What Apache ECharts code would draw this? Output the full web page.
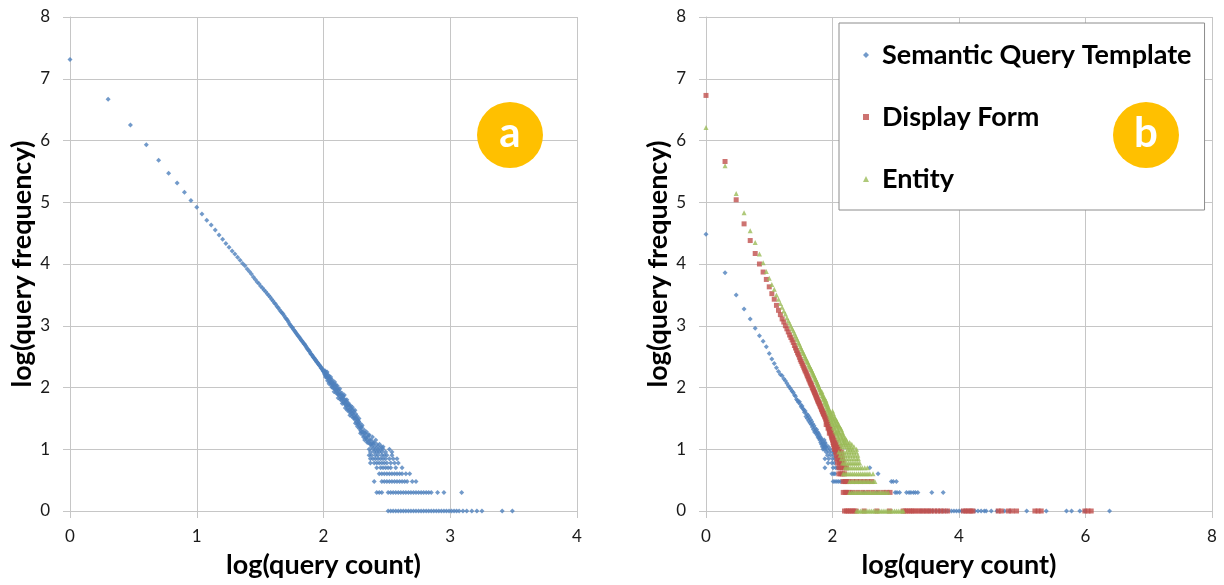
<!DOCTYPE html>
<html>
<head>
<meta charset="utf-8">
<script src="https://cdn.jsdelivr.net/npm/echarts@6/dist/echarts.min.js"></script>
<style>
  html, body { margin: 0; padding: 0; background: #ffffff; }
  #chart { width: 1224px; height: 585px; }
</style>
</head>
<body>
<div id="chart"></div>
<script>
// ---- Tick values ----
const countTicksA = [0, 1, 2, 3, 4];
const countTicksB = [0, 2, 4, 6, 8];
const freqTicks = [0, 1, 2, 3, 4, 5, 6, 7, 8];

// ---- Panel (a): all queries, [log(count), log(frequency)] ----
const queryCurve = [
  [0.000,7.31],[0.301,6.67],[0.477,6.25],[0.602,5.93],[0.699,5.68],[0.778,5.47],[0.845,5.31],[0.903,5.16],[0.954,5.03],
  [1.000,4.92],[1.041,4.81],[1.079,4.71],[1.114,4.63],[1.146,4.55],[1.176,4.47],[1.204,4.40],[1.230,4.33],[1.255,4.27],
  [1.279,4.21],[1.301,4.16],[1.322,4.11],[1.342,4.06],[1.362,4.01],[1.380,3.97],[1.398,3.92],[1.415,3.88],[1.431,3.84],
  [1.447,3.79],[1.462,3.75],[1.477,3.71],[1.491,3.68],[1.505,3.64],[1.519,3.61],[1.531,3.58],[1.544,3.55],[1.556,3.52],
  [1.568,3.49],[1.580,3.46],[1.591,3.43],[1.602,3.40],[1.613,3.37],[1.623,3.35],[1.633,3.31],[1.643,3.29],[1.653,3.26],
  [1.663,3.23],[1.672,3.21],[1.681,3.19],[1.690,3.16],[1.699,3.13],[1.708,3.11],[1.716,3.09],[1.724,3.06],[1.732,3.03],
  [1.740,3.01],[1.748,2.98],[1.756,2.97],[1.763,2.94],[1.771,2.92],[1.778,2.90],[1.785,2.88],[1.792,2.86],[1.799,2.84],
  [1.806,2.82],[1.813,2.80],[1.820,2.78],[1.826,2.76],[1.833,2.75],[1.839,2.73],[1.845,2.71],[1.851,2.70],[1.857,2.68],
  [1.863,2.66],[1.869,2.64],[1.875,2.62],[1.881,2.61],[1.886,2.59],[1.892,2.58],[1.898,2.55],[1.903,2.54],[1.908,2.53],
  [1.914,2.51],[1.919,2.49],[1.924,2.48],[1.929,2.47],[1.934,2.45],[1.940,2.44],[1.944,2.42],[1.949,2.41],[1.954,2.40],
  [1.959,2.38],[1.964,2.37],[1.968,2.36],[1.973,2.35],[1.978,2.33],[1.982,2.31],[1.987,2.31],[1.991,2.29],[1.996,2.27],
  [2.000,2.26]
];
const queryScatter = [
  [2.004,2.27],[2.008,2.22],[2.012,2.27],[2.016,2.17],[2.020,2.22],[2.024,2.18],[2.028,2.25],[2.032,2.11],[2.036,2.16],
  [2.040,2.19],[2.044,2.06],[2.048,2.15],[2.052,2.08],[2.056,2.17],[2.060,2.08],[2.064,2.01],[2.068,2.12],[2.072,2.05],
  [2.076,1.99],[2.080,2.06],[2.084,1.93],[2.088,2.09],[2.092,1.98],[2.096,2.02],[2.100,1.91],[2.104,1.97],[2.108,2.03],
  [2.112,1.90],[2.116,1.83],[2.120,1.96],[2.124,1.89],[2.128,1.98],[2.132,1.81],[2.136,1.89],[2.140,1.83],[2.144,1.91],
  [2.148,1.74],[2.152,1.82],[2.156,1.86],[2.160,1.75],[2.164,1.88],[2.168,1.75],[2.172,1.67],[2.176,1.79],[2.180,1.70],
  [2.184,1.80],[2.188,1.63],[2.192,1.71],[2.196,1.75],[2.200,1.63],[2.204,1.70],[2.208,1.55],[2.212,1.71],[2.216,1.61],
  [2.220,1.66],[2.224,1.53],[2.228,1.68],[2.232,1.58],[2.236,1.51],[2.240,1.61],[2.244,1.51],[2.248,1.63],[2.252,1.42],
  [2.256,1.52],[2.260,1.44],[2.264,1.54],[2.268,1.37],[2.272,1.47],[2.276,1.41],[2.280,1.50],[2.284,1.33],[2.288,1.42],
  [2.292,1.26],[2.296,1.35],[2.300,1.28],[2.305,1.39],[2.310,1.28],[2.315,1.20],[2.320,1.31],[2.325,1.15],[2.330,1.26],
  [2.335,1.18],[2.340,1.28],[2.345,1.11],[2.350,1.20],[2.356,1.11],[2.362,1.23],[2.368,1.08],[2.374,1.15],[2.380,1.04],
  [2.386,1.20],[2.392,1.08],[2.398,1.11],[2.405,1.04],[2.412,1.15],[2.420,1.08],[2.430,1.04],[2.442,1.08],[2.455,1.04],
  [2.470,1.04],
  [2.006,2.24],[2.014,2.20],[2.022,2.24],[2.030,2.15],[2.038,2.20],[2.046,2.11],[2.054,2.14],[2.062,2.04],[2.070,2.09],
  [2.078,2.03],[2.086,1.98],[2.094,2.05],[2.102,1.94],[2.110,1.99],[2.118,1.88],[2.126,1.93],[2.134,1.85],[2.142,1.79],
  [2.150,1.87],[2.158,1.78],[2.166,1.81],[2.174,1.72],[2.182,1.76],[2.190,1.66],[2.198,1.72],[2.206,1.60],[2.214,1.66],
  [2.222,1.58],[2.230,1.63],[2.238,1.55],[2.246,1.48],[2.254,1.57],[2.262,1.49],[2.270,1.40],[2.278,1.45],[2.286,1.36],
  [2.294,1.30],[2.302,1.36],[2.312,1.23],[2.322,1.26],[2.332,1.20],[2.342,1.15],[2.352,1.23],[2.364,1.15],[2.376,1.08],
  [2.388,1.11]
];
// Low-frequency rows: [log(frequency), list of log(count)]
const queryRows = [
  [1.000, [2.36,2.39,2.41,2.43,2.45,2.47,2.52]],
  [0.954, [2.37,2.40,2.42,2.44,2.46,2.49,2.54]],
  [0.903, [2.36,2.38,2.41,2.43,2.46,2.48,2.50,2.54]],
  [0.845, [2.37,2.39,2.41,2.43,2.45,2.47,2.49,2.52,2.55,2.58]],
  [0.778, [2.37,2.40,2.42,2.44,2.46,2.48,2.50,2.53,2.56,2.59]],
  [0.699, [2.42,2.45,2.47,2.49,2.51,2.53,2.57,2.62]],
  [0.602, [2.44,2.46,2.48,2.50,2.52,2.54,2.56,2.58,2.60,2.62,2.65,2.68]],
  [0.477, [2.40,2.46,2.48,2.50,2.52,2.54,2.56,2.58,2.60,2.62,2.64,2.66,2.70,2.73]],
  [0.301, [2.42,2.44,2.46,2.51,2.53,2.55,2.57,2.59,2.61,2.63,2.65,2.67,2.69,2.71,2.73,2.75,2.77,2.79,2.81,2.83,2.85,2.90,2.95,3.09]],
  [0.000, [2.51,2.53,2.55,2.57,2.59,2.61,2.63,2.65,2.67,2.69,2.71,2.73,2.75,2.77,2.79,2.81,2.83,2.85,2.87,2.89,2.91,
           2.93,2.95,2.97,2.99,3.01,3.03,3.05,3.07,3.10,3.13,3.17,3.21,3.25,3.41,3.49]]
];

// ---- Panel (b): Semantic Query Template ----
const templateCurve = [
  [0.000,4.48],[0.301,3.86],[0.477,3.50],[0.602,3.27],[0.699,3.11],[0.778,2.96],[0.845,2.84],[0.903,2.75],[0.954,2.66],
  [1.000,2.55],[1.041,2.46],[1.079,2.39],[1.114,2.32],[1.146,2.26],[1.176,2.21],[1.204,2.19],[1.230,2.14],[1.255,2.11],
  [1.279,2.07],[1.301,2.03],[1.322,2.00],[1.342,1.97],[1.362,1.94],[1.380,1.92],[1.398,1.88],[1.415,1.86],[1.431,1.81],
  [1.447,1.79],[1.462,1.76],[1.477,1.77],[1.491,1.73],[1.505,1.69],[1.519,1.70],[1.531,1.66],[1.544,1.64],[1.556,1.60],
  [1.568,1.62],[1.580,1.53],[1.591,1.57],[1.602,1.50],[1.613,1.55],[1.623,1.46],[1.633,1.52],[1.643,1.43],[1.653,1.48],
  [1.663,1.40],[1.672,1.45],[1.681,1.36],[1.690,1.41],[1.699,1.32],[1.708,1.38],[1.716,1.28],[1.724,1.34],[1.732,1.30],
  [1.740,1.26],[1.748,1.32],[1.756,1.23],[1.763,1.28],[1.771,1.20],[1.778,1.26],[1.785,1.18],[1.792,1.23],[1.799,1.15],
  [1.806,1.20],[1.813,1.11],[1.820,1.18],[1.826,1.08],[1.833,1.15],[1.839,1.04],[1.845,1.11],[1.851,1.00],[1.857,1.08],
  [1.863,1.04],[1.869,1.15],[1.875,1.00],[1.881,1.11],[1.886,1.04],[1.892,1.08],[1.898,1.04],[1.914,1.00],[1.934,1.04],
  [1.964,1.00]
];
const templateRows = [
  [0.954, [1.90,1.95,2.00,2.03]],
  [0.903, [1.92,1.97,2.02]],
  [0.845, [1.88,1.94,2.00,2.04]],
  [0.778, [1.93,1.99,2.03]],
  [0.699, [1.88,2.01,2.05,2.08,2.59]],
  [0.602, [1.99,2.02,2.04,2.72]],
  [0.477, [2.01,2.04,2.07,2.10,2.13,2.17,2.93,2.96,3.01]],
  [0.301, [2.30,2.50,2.70,2.99,3.02,3.06,3.17,3.21,3.24,3.28,3.31,3.35,3.57,3.75]],
  [0.000, [3.40,3.46,3.52,3.58,3.64,3.70,3.76,3.82,3.88,3.92,3.96,4.00,4.04,4.08,4.12,4.16,4.20,4.25,4.30,4.35,4.40,4.43,
           4.51,4.60,4.72,4.80,5.07,5.38,5.70,5.78,5.91,5.99,6.38]]
];

// ---- Panel (b): Display Form ----
const displayCurve = [
  [0.000,6.73],[0.301,5.66],[0.477,5.04],[0.602,4.65],[0.699,4.38],[0.778,4.17],[0.845,4.00],[0.903,3.87],[0.954,3.75],
  [1.000,3.63],[1.041,3.52],[1.079,3.43],[1.114,3.33],[1.146,3.25],[1.176,3.18],[1.204,3.11],[1.230,3.06],[1.255,3.00],
  [1.279,2.95],[1.301,2.90],[1.322,2.85],[1.342,2.81],[1.362,2.77],[1.380,2.73],[1.398,2.68],[1.415,2.64],[1.431,2.60],
  [1.447,2.56],[1.462,2.53],[1.477,2.49],[1.491,2.45],[1.505,2.42],[1.519,2.39],[1.531,2.36],[1.544,2.33],[1.556,2.30],
  [1.568,2.27],[1.580,2.25],[1.591,2.22],[1.602,2.19],[1.613,2.17],[1.623,2.14],[1.633,2.12],[1.643,2.09],[1.653,2.07],
  [1.663,2.05],[1.672,2.03],[1.681,2.00],[1.690,1.98],[1.699,1.96],[1.708,1.94],[1.716,1.92],[1.724,1.90],[1.732,1.88],
  [1.740,1.86],[1.748,1.84],[1.756,1.82],[1.763,1.80],[1.771,1.78],[1.778,1.77],[1.785,1.75],[1.792,1.74],[1.799,1.72],
  [1.806,1.70],[1.813,1.69],[1.820,1.67],[1.826,1.65],[1.833,1.64],[1.839,1.62],[1.845,1.61],[1.851,1.59],[1.857,1.58],
  [1.863,1.56],[1.869,1.57],[1.875,1.54],[1.881,1.52],[1.886,1.53],[1.892,1.49],[1.898,1.48],[1.903,1.50],[1.908,1.45],
  [1.914,1.43],[1.919,1.46],[1.924,1.40],[1.929,1.42],[1.934,1.38],[1.940,1.35],[1.944,1.39],[1.949,1.32],[1.954,1.34],
  [1.959,1.30],[1.964,1.28],[1.968,1.32],[1.973,1.26],[1.978,1.23],[1.982,1.28],[1.987,1.20],[1.991,1.18],[1.996,1.23],
  [2.000,1.15],[2.004,1.20],[2.009,1.11],[2.013,1.15],[2.017,1.08],[2.021,1.11],[2.025,1.04],[2.029,1.08],[2.033,1.00],
  [2.037,1.04],[2.041,1.00],[2.049,1.04],[2.057,1.00],
  [1.900,1.40],[1.930,1.34],[1.950,1.26],[1.975,1.30],[2.010,1.23],[2.030,1.15],[2.050,1.08],[2.065,1.04],
  [2.080,1.00],[2.060,1.11],[2.090,1.04],[2.110,1.00]
];
const displayRows = [
  [0.954, [2.05,2.08,2.11,2.14]],
  [0.903, [2.06,2.09,2.12,2.15]],
  [0.845, [2.07,2.10,2.13,2.16]],
  [0.778, [2.08,2.11,2.14,2.17]],
  [0.699, [2.10,2.13,2.16,2.19,2.22]],
  [0.602, [2.10,2.13,2.16,2.19]],
  [0.477, [2.17,2.20,2.23,2.26,2.32,2.38,2.44,2.50,2.56,2.62]],
  [0.301, [2.17,2.20,2.23,2.26,2.32,2.40,2.48,2.56,2.64,2.72,2.80,2.86,2.91]],
  [0.000, [2.19,2.22,2.25,2.28,2.31,2.34,2.37,2.50,2.70,2.90,3.12,3.15,3.18,3.22,3.25,3.28,3.32,3.36,3.40,3.44,3.48,
           3.52,3.56,3.61,3.66,3.71,3.76,3.82,4.07,4.11,4.15,4.19,4.22,4.62,4.67,4.78,4.84,4.91,5.20,5.25,5.30,5.99,6.04,6.09]]
];

// ---- Panel (b): Entity ----
const entityCurve = [
  [0.000,6.21],[0.301,5.59],[0.477,5.14],[0.602,4.83],[0.699,4.54],[0.778,4.35],[0.845,4.16],[0.903,4.02],[0.954,3.88],
  [1.000,3.77],[1.041,3.67],[1.079,3.59],[1.114,3.50],[1.146,3.43],[1.176,3.36],[1.204,3.30],[1.230,3.24],[1.255,3.19],
  [1.279,3.13],[1.301,3.08],[1.322,3.04],[1.342,2.99],[1.362,2.95],[1.380,2.92],[1.398,2.88],[1.415,2.84],[1.431,2.80],
  [1.447,2.77],[1.462,2.73],[1.477,2.70],[1.491,2.66],[1.505,2.63],[1.519,2.60],[1.531,2.57],[1.544,2.55],[1.556,2.52],
  [1.568,2.49],[1.580,2.47],[1.591,2.44],[1.602,2.42],[1.613,2.40],[1.623,2.37],[1.633,2.35],[1.643,2.33],[1.653,2.31],
  [1.663,2.29],[1.672,2.27],[1.681,2.25],[1.690,2.23],[1.699,2.21],[1.708,2.19],[1.716,2.17],[1.724,2.15],[1.732,2.13],
  [1.740,2.12],[1.748,2.10],[1.756,2.08],[1.763,2.06],[1.771,2.05],[1.778,2.03],[1.785,2.01],[1.792,1.99],[1.799,1.97],
  [1.806,1.96],[1.813,1.93],[1.820,1.92],[1.826,1.90],[1.833,1.93],[1.839,1.87],[1.845,1.85],[1.851,1.88],[1.857,1.82],
  [1.863,1.80],[1.869,1.84],[1.875,1.77],[1.881,1.75],[1.886,1.80],[1.892,1.72],[1.898,1.78],[1.903,1.69],[1.908,1.74],
  [1.914,1.66],[1.919,1.72],[1.924,1.63],[1.929,1.69],[1.934,1.60],[1.940,1.66],[1.944,1.57],[1.949,1.64],[1.954,1.54],
  [1.959,1.61],[1.964,1.51],[1.968,1.59],[1.973,1.48],[1.978,1.56],[1.982,1.45],[1.987,1.54],[1.991,1.42],[1.996,1.51],
  [2.000,1.62],[2.004,1.40],[2.009,1.49],[2.013,1.58],[2.017,1.36],[2.021,1.46],[2.025,1.54],[2.029,1.34],[2.033,1.43],
  [2.037,1.51],[2.041,1.30],[2.045,1.40],[2.049,1.49],[2.053,1.28],[2.057,1.38],[2.061,1.46],[2.064,1.26],[2.068,1.36],
  [2.072,1.45],[2.076,1.23],[2.079,1.32],[2.083,1.41],[2.086,1.20],[2.090,1.30],[2.093,1.40],[2.097,1.18],[2.100,1.28],
  [2.104,1.38],[2.107,1.15],[2.111,1.26],[2.114,1.36],[2.121,1.11],[2.124,1.23],[2.127,1.34],[2.134,1.08],[2.137,1.20],
  [2.140,1.32],[2.146,1.04],[2.149,1.18],[2.152,1.28],[2.158,1.15],[2.161,1.26],[2.167,1.11],[2.170,1.23],[2.176,1.08],
  [2.179,1.20],[2.188,1.15],[2.190,1.04],[2.199,1.11],[2.204,1.18],[2.212,1.08],[2.220,1.15],[2.228,1.04],[2.236,1.11],
  [2.243,1.00],[2.250,1.08],[2.262,1.04],[2.272,1.11],[2.283,1.00],[2.294,1.04],[2.305,1.08],[2.320,1.00],[2.340,1.04],
  [2.380,1.00]
];
const entityRows = [
  [0.954, [2.10,2.14,2.18,2.22,2.26,2.30,2.34,2.38]],
  [0.903, [2.12,2.16,2.20,2.24,2.28,2.32,2.36,2.40]],
  [0.845, [2.14,2.18,2.22,2.26,2.30,2.34,2.38,2.41]],
  [0.778, [2.16,2.19,2.22,2.25,2.28,2.31,2.34,2.37,2.40,2.43]],
  [0.699, [2.20,2.23,2.26,2.29,2.32,2.35,2.38,2.41,2.44,2.47,2.51,2.55]],
  [0.602, [2.17,2.20,2.23,2.26,2.29,2.32,2.35,2.38,2.41,2.44,2.47,2.50,2.53,2.56,2.59,2.64]],
  [0.477, [2.27,2.30,2.33,2.36,2.39,2.42,2.45,2.48,2.51,2.54,2.57,2.60,2.64,2.67]],
  [0.301, [2.27,2.30,2.33,2.36,2.39,2.42,2.45,2.48,2.51,2.54,2.57,2.60,2.63,2.66,2.69,2.72,2.75,2.78,2.81,2.84,2.88]],
  [0.000, [2.38,2.41,2.44,2.47,2.50,2.53,2.56,2.59,2.62,2.65,2.68,2.71,2.74,2.77,2.80,2.83,2.86,2.89,2.92,2.95,2.98,
           3.01,3.04,3.07,3.10,3.12]]
];

// Flatten [y, [x...]] rows into scatter points and append to the curve points.
function withRows(curve, rows) {
  const pts = curve.slice();
  rows.forEach(function (r) { r[1].forEach(function (x) { pts.push([x, r[0]]); }); });
  return pts;
}

const FONT = 'Lato, "Open Sans", "Liberation Sans", sans-serif';
const GRID_COLOR = '#c6c6c6';
const BLUE = '#4f81bd', RED = '#c0504d', GREEN = '#9bbb59', BADGE = '#ffc000';

function xAxisFor(gridIndex, ticks, title) {
  return {
    type: 'value', gridIndex: gridIndex,
    min: ticks[0], max: ticks[ticks.length - 1], interval: ticks[1] - ticks[0],
    name: title, nameLocation: 'middle', nameGap: 41,
    nameTextStyle: { fontFamily: FONT, fontWeight: 'bold', fontSize: 27, color: '#000' },
    axisLine: { show: true, onZero: false, lineStyle: { color: GRID_COLOR, width: 1 } },
    axisTick: { show: true, inside: false, length: 7, lineStyle: { color: GRID_COLOR } },
    axisLabel: { margin: 17, fontFamily: FONT, fontSize: 17, color: '#1a1a1a' },
    splitLine: { show: true, lineStyle: { color: GRID_COLOR, width: 1 } }
  };
}
function yAxisFor(gridIndex, ticks, title) {
  return {
    type: 'value', gridIndex: gridIndex,
    min: ticks[0], max: ticks[ticks.length - 1], interval: ticks[1] - ticks[0],
    name: title, nameLocation: 'middle', nameGap: 29,
    nameTextStyle: { fontFamily: FONT, fontWeight: 'bold', fontSize: 27, color: '#000' },
    axisLine: { show: true, onZero: false, lineStyle: { color: GRID_COLOR, width: 1 } },
    axisTick: { show: true, inside: false, length: 7, lineStyle: { color: GRID_COLOR } },
    axisLabel: { margin: 20, fontFamily: FONT, fontSize: 17, color: '#1a1a1a' },
    splitLine: { show: true, lineStyle: { color: GRID_COLOR, width: 1 } }
  };
}

function badge(cx, cy, letter) {
  return {
    type: 'group', z: 100, children: [
      { type: 'circle', z: 100, shape: { cx: cx, cy: cy, r: 33 }, style: { fill: BADGE } },
      { type: 'text', z: 101, x: cx, y: cy - 2, style: {
          text: letter, fill: '#ffffff', font: 'bold 42px ' + FONT,
          align: 'center', verticalAlign: 'middle' } }
    ]
  };
}

const chart = echarts.init(document.getElementById('chart'), null, { renderer: 'canvas' });
chart.setOption({
  animation: false,
  backgroundColor: '#ffffff',
  grid: [
    { left: 70, top: 17, width: 507, height: 494 },
    { left: 706, top: 17, width: 506, height: 494 }
  ],
  xAxis: [
    xAxisFor(0, countTicksA, 'log(query count)'),
    xAxisFor(1, countTicksB, 'log(query count)')
  ],
  yAxis: [
    yAxisFor(0, freqTicks, 'log(query frequency)'),
    yAxisFor(1, freqTicks, 'log(query frequency)')
  ],
  legend: {
    data: ['Semantic Query Template', 'Display Form', 'Entity'],
    orient: 'vertical', left: 839, top: 23,
    padding: [17, 13, 16, 24], itemGap: 32,
    itemWidth: 6, itemHeight: 6,
    backgroundColor: '#ffffff', borderColor: '#8c8c8c', borderWidth: 1, borderRadius: 0,
    textStyle: { fontFamily: FONT, fontWeight: 'bold', fontSize: 27, color: '#000', lineHeight: 30,
                 padding: [0, 0, 0, 8] }
  },
  series: [
    {
      name: 'Queries', type: 'scatter', xAxisIndex: 0, yAxisIndex: 0,
      symbol: 'diamond', symbolSize: 5, itemStyle: { color: BLUE },
      data: withRows(queryCurve.concat(queryScatter), queryRows)
    },
    {
      name: 'Semantic Query Template', type: 'scatter', xAxisIndex: 1, yAxisIndex: 1,
      symbol: 'diamond', symbolSize: 5, itemStyle: { color: BLUE },
      data: withRows(templateCurve, templateRows)
    },
    {
      name: 'Display Form', type: 'scatter', xAxisIndex: 1, yAxisIndex: 1,
      symbol: 'rect', symbolSize: 5, itemStyle: { color: RED },
      data: withRows(displayCurve, displayRows)
    },
    {
      name: 'Entity', type: 'scatter', xAxisIndex: 1, yAxisIndex: 1,
      symbol: 'triangle', symbolSize: 5, itemStyle: { color: GREEN },
      data: withRows(entityCurve, entityRows)
    }
  ],
  graphic: [ badge(510, 135, 'a'), badge(1146, 135, 'b') ]
});
</script>
</body>
</html>
